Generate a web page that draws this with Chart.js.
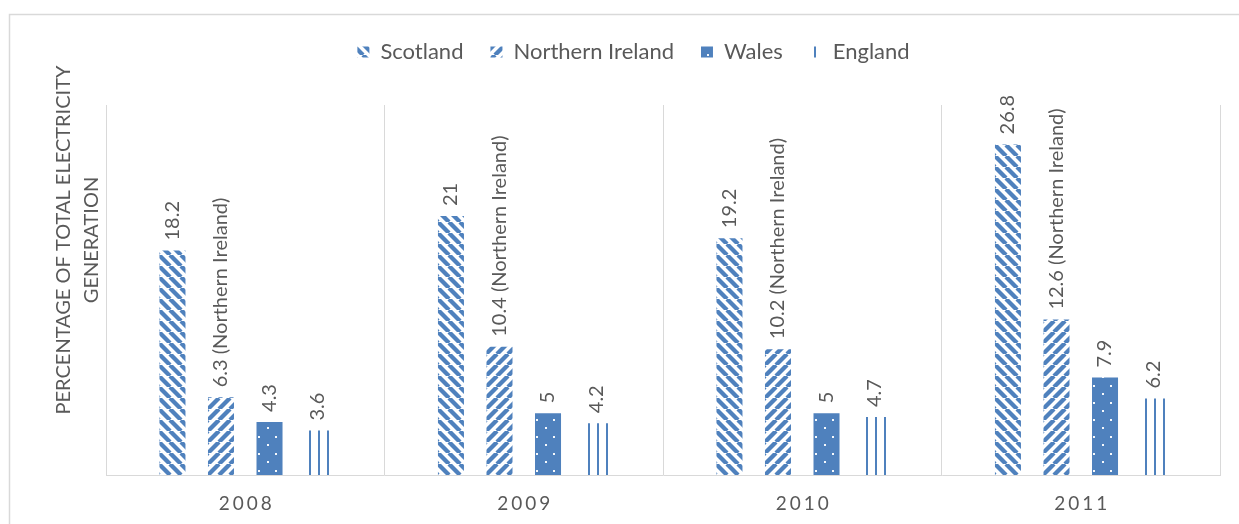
<!DOCTYPE html>
<html><head><meta charset="utf-8">
<script src="https://cdn.jsdelivr.net/npm/chart.js@4/dist/chart.umd.min.js"></script>
<style>html,body{margin:0;padding:0;background:#fff}#wrap{width:1239px;height:524px}</style>
</head><body><div id="wrap"><canvas id="c" width="1239" height="524"></canvas></div>
<script>
const categories = ['2008', '2009', '2010', '2011'];
const scotland = [18.2, 21, 19.2, 26.8];
const northernIreland = [6.3, 10.4, 10.2, 12.6];
const wales = [4.3, 5, 5, 7.9];
const england = [3.6, 4.2, 4.7, 6.2];
const seriesNames = ['Scotland', 'Northern Ireland', 'Wales', 'England'];
const labelSuffixes = ['', ' (Northern Ireland)', '', ''];
const yTitle = ['PERCENTAGE OF TOTAL ELECTRICITY', 'GENERATION'];

const BLUE = '#4F81BD';
const GREY = '#595959';
const FONT = 'Lato';
const CAT_PCT = 0.697;
const BAR_PCT = 0.536;

const canvas = document.getElementById('c');
const mctx = canvas.getContext('2d');
function makeTile(w, h, draw) {
  const c = document.createElement('canvas');
  c.width = w; c.height = h;
  draw(c.getContext('2d'), w, h);
  return c;
}
const s = 11;
const tiles = [
  makeTile(s, s, (x) => {
    x.strokeStyle = BLUE; x.lineWidth = 4.3; x.beginPath();
    for (const k of [-s, 0, s]) { x.moveTo(k, 0); x.lineTo(k + s, s); }
    x.stroke();
  }),
  makeTile(s, s, (x) => {
    x.strokeStyle = BLUE; x.lineWidth = 4.3; x.beginPath();
    for (const k of [-s, 0, s]) { x.moveTo(k, s); x.lineTo(k + s, 0); }
    x.stroke();
  }),
  makeTile(17, 17, (x) => {
    x.fillStyle = BLUE; x.fillRect(0, 0, 17, 17);
    x.fillStyle = 'rgba(255,255,255,0.95)';
    x.fillRect(1, 12, 2, 2); x.fillRect(10, 3, 2, 2);
  }),
  makeTile(9, 4, (x) => {
    x.fillStyle = BLUE; x.fillRect(4, 0, 2, 4);
  })
];
const staticPatterns = tiles.map(t => mctx.createPattern(t, 'repeat'));

// pattern anchored to each bar's left edge and the axis baseline
function barPattern(ctx) {
  const di = ctx.datasetIndex;
  const chart = ctx.chart;
  const xs = chart.scales && chart.scales.x;
  const ys = chart.scales && chart.scales.y;
  if (ctx.type !== 'data' || !xs || !ys || !xs.width) return staticPatterns[di];
  const n = chart.data.datasets.length;
  const catW = xs.width / chart.data.labels.length;
  const slot = catW * CAT_PCT / n;
  const w = slot * BAR_PCT;
  const cx = xs.getPixelForValue(ctx.dataIndex) + (di - (n - 1) / 2) * slot;
  const left = Math.round(cx - w / 2);
  const p = mctx.createPattern(tiles[di], 'repeat');
  p.setTransform(new DOMMatrix([1, 0, 0, 1, left, Math.round(ys.getPixelForValue(0))]));
  return p;
}

const borderPlugin = {
  id: 'frame',
  beforeDraw(chart) {
    const c = chart.ctx;
    c.save();
    c.fillStyle = '#fff'; c.fillRect(0, 0, chart.width, chart.height);
    c.strokeStyle = '#d9d9d9'; c.lineWidth = 1.5;
    c.strokeRect(9.5, 14.5, chart.width + 20, chart.height + 20);
    c.restore();
  },
  beforeLayout(chart) {
    const lg = chart.legend;
    if (lg && !lg._wrapped) {
      const f = lg.fit;
      lg.fit = function () { f.call(this); this.height = 91; };
      lg._wrapped = true;
    }
  }
};

const labelPlugin = {
  id: 'vlabels',
  afterDatasetsDraw(chart) {
    const c = chart.ctx;
    c.save();
    c.fillStyle = GREY;
    c.font = '20px ' + FONT;
    c.textAlign = 'left';
    c.textBaseline = 'middle';
    chart.data.datasets.forEach((ds, di) => {
      const meta = chart.getDatasetMeta(di);
      meta.data.forEach((el, i) => {
        const txt = String(ds.data[i]) + labelSuffixes[di];
        c.save();
        c.translate(el.x, el.y - 10);
        c.rotate(-Math.PI / 2);
        c.fillText(txt, 0, 0);
        c.restore();
      });
    });
    c.restore();
  }
};

const dataArrays = [scotland, northernIreland, wales, england];

const chart = new Chart(canvas, {
  type: 'bar',
  data: {
    labels: categories,
    datasets: seriesNames.map((n, i) => ({
      label: n,
      data: dataArrays[i],
      backgroundColor: (ctx) => barPattern(ctx),
      borderWidth: 0,
      categoryPercentage: CAT_PCT,
      barPercentage: BAR_PCT
    }))
  },
  options: {
    responsive: false,
    animation: false,
    devicePixelRatio: 1,
    layout: { padding: { left: 47, right: 19, top: 14, bottom: 0 } },
    plugins: {
      tooltip: { enabled: false },
      legend: {
        position: 'top',
        labels: {
          color: GREY,
          font: { family: FONT, size: 22 },
          boxWidth: 12,
          boxHeight: 11,
          padding: 27,
          generateLabels(ch) {
            return ch.data.datasets.map((ds, i) => ({
              text: ds.label,
              fillStyle: staticPatterns[i],
              strokeStyle: 'transparent',
              lineWidth: 0,
              hidden: !ch.isDatasetVisible(i),
              datasetIndex: i,
              fontColor: GREY
            }));
          }
        }
      }
    },
    scales: {
      x: {
        grid: { offset: true, color: '#d9d9d9', drawTicks: false, lineWidth: 1 },
        border: { color: '#d9d9d9', width: 1 },
        ticks: { color: GREY, font: { family: FONT, size: 19 }, padding: 17 },
        afterFit(sc) {
          sc.height = 49;
          if (!sc._wrapped) {
            const o = sc.drawLabels;
            sc.drawLabels = function () {
              this.ctx.save();
              this.ctx.letterSpacing = '3px';
              this.ctx.translate(1.5, 0);
              o.apply(this, arguments);
              this.ctx.restore();
            };
            sc._wrapped = true;
          }
        }
      },
      y: {
        min: 0,
        max: 30,
        ticks: { display: false },
        grid: { display: false },
        border: { display: true, color: '#d9d9d9', width: 1 },
        title: {
          display: true,
          text: yTitle,
          color: GREY,
          font: { family: FONT, size: 20, lineHeight: 1.4 },
          padding: { top: 3, bottom: 0 }
        },
        afterFit(sc) {
          sc.width = 59;
          if (!sc._wrapped) {
            const o = sc.drawTitle;
            sc.drawTitle = function () {
              this.ctx.save();
              this.ctx.translate(0, -50);
              o.apply(this, arguments);
              this.ctx.restore();
            };
            sc._wrapped = true;
          }
        }
      }
    }
  },
  plugins: [borderPlugin, labelPlugin]
});
chart.update();
</script>
</body></html>
